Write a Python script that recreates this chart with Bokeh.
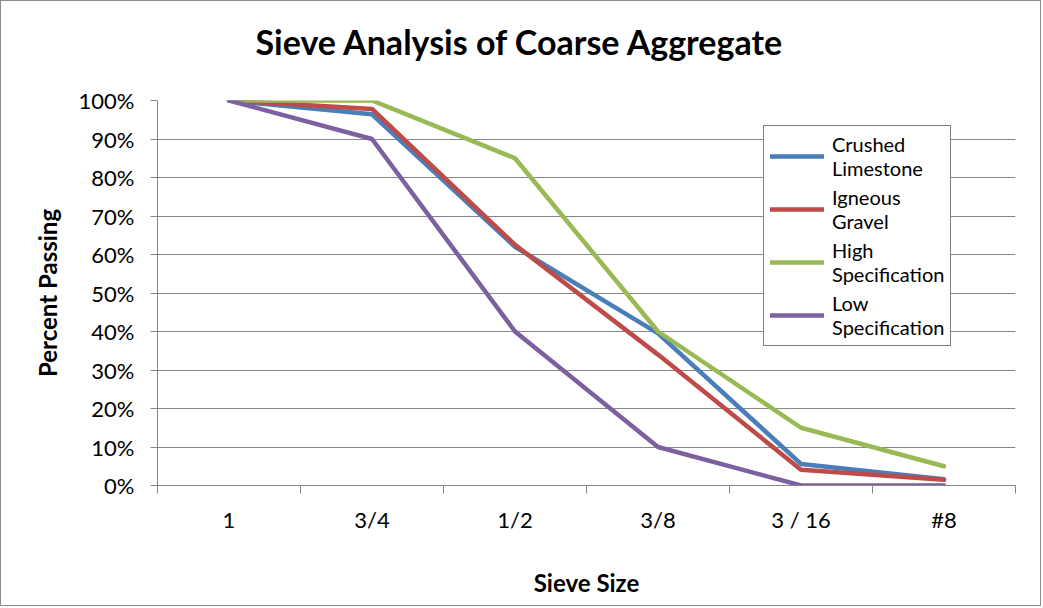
from bokeh.plotting import figure
from bokeh.models import (FixedTicker, NumeralTickFormatter, Range1d, Legend,
                          LegendItem, Title)
from bokeh.embed import file_html
from bokeh.resources import INLINE

# Sieve sizes (categories) and percent passing for each aggregate / spec limit
sieve_sizes = ["1", "3/4", "1/2", "3/8", "3 / 16", "#8"]
crushed_limestone = [1.00, 0.964, 0.62, 0.395, 0.056, 0.016]
igneous_gravel = [1.00, 0.978, 0.625, 0.34, 0.041, 0.015]
high_spec = [1.00, 1.00, 0.85, 0.40, 0.15, 0.05]
low_spec = [1.00, 0.90, 0.40, 0.10, 0.0, 0.0]

series_names = ["Crushed\nLimestone", "Igneous\nGravel",
                "High\nSpecification", "Low\nSpecification"]
series_values = [crushed_limestone, igneous_gravel, high_spec, low_spec]
series_colors = ["#4A7EBB", "#BE4B48", "#98B954", "#7D60A0"]

FONT = "Lato"
GRID = "#868686"

# category centres sit at i + 0.5, boundaries at integers
x_pos = [i + 0.5 for i in range(len(sieve_sizes))]

p = figure(width=1041, height=606, output_backend="svg", toolbar_location=None,
           x_range=Range1d(0, len(sieve_sizes)), y_range=Range1d(0, 1),
           min_border_left=156, min_border_right=27, min_border_top=0,
           min_border_bottom=122)
p.styles = {"border": "1px solid #8c8c8c"}
p.outline_line_color = None
p.background_fill_color = "white"
p.border_fill_color = "white"

# title centred on the whole chart rather than on the plot frame;
# an empty title above it keeps the top margin
p.title.text = "Sieve Analysis of Coarse Aggregate"
p.title.align = "left"
p.title.offset = 98
p.title.text_font = FONT
p.title.text_font_size = "34px"
p.title.text_font_style = "bold"
p.title.text_color = "black"
p.title.standoff = 34
p.add_layout(Title(text=" ", text_font_size="18px", standoff=0), "above")

# x axis: labels at category centres, tick marks at category boundaries
xa = p.xaxis[0]
xa.ticker = FixedTicker(ticks=x_pos,
                        minor_ticks=list(range(len(sieve_sizes) + 1)))
xa.major_label_overrides = {x: s for x, s in zip(x_pos, sieve_sizes)}
xa.major_tick_line_color = None
xa.major_tick_out = 0
xa.major_tick_in = 0
xa.minor_tick_line_color = GRID
xa.minor_tick_out = 8
xa.minor_tick_in = 0
xa.axis_line_color = GRID
xa.major_label_text_font = FONT
xa.major_label_text_font_size = "22px"
xa.major_label_text_color = "black"
xa.major_label_standoff = 12
xa.axis_label = "Sieve Size"
xa.axis_label_text_font = FONT
xa.axis_label_text_font_size = "24px"
xa.axis_label_text_font_style = "bold"
xa.axis_label_text_color = "black"
xa.axis_label_standoff = 32

ya = p.yaxis[0]
ya.ticker = FixedTicker(ticks=[i / 10 for i in range(11)], minor_ticks=[])
ya.formatter = NumeralTickFormatter(format="0%")
ya.axis_line_color = GRID
ya.major_tick_line_color = GRID
ya.major_tick_out = 7
ya.major_tick_in = 0
ya.major_label_text_font = FONT
ya.major_label_text_font_size = "22px"
ya.major_label_text_color = "black"
ya.major_label_standoff = 16
ya.axis_label = "Percent Passing"
ya.axis_label_text_font = FONT
ya.axis_label_text_font_size = "24px"
ya.axis_label_text_font_style = "bold"
ya.axis_label_text_color = "black"
ya.axis_label_standoff = 14

p.xgrid.grid_line_color = None
p.ygrid.grid_line_color = GRID
p.ygrid.grid_line_width = 1

items = []
for name, vals, color in zip(series_names, series_values, series_colors):
    r = p.line(x_pos, vals, line_color=color, line_width=4.5,
               line_join="round", line_cap="round")
    items.append(LegendItem(label=name, renderers=[r]))

legend = Legend(items=items, location=(606, 139))
legend.border_line_color = "black"
legend.border_line_width = 1
legend.background_fill_color = "white"
legend.background_fill_alpha = 1
legend.label_text_font = FONT
legend.label_text_font_size = "20px"
legend.label_text_line_height = 1.35
legend.label_text_color = "black"
legend.glyph_width = 54
legend.label_standoff = 8
legend.spacing = 5
legend.padding = 6
legend.margin = 0
p.add_layout(legend, "center")

open("out.html", "w").write(file_html(p, INLINE))
